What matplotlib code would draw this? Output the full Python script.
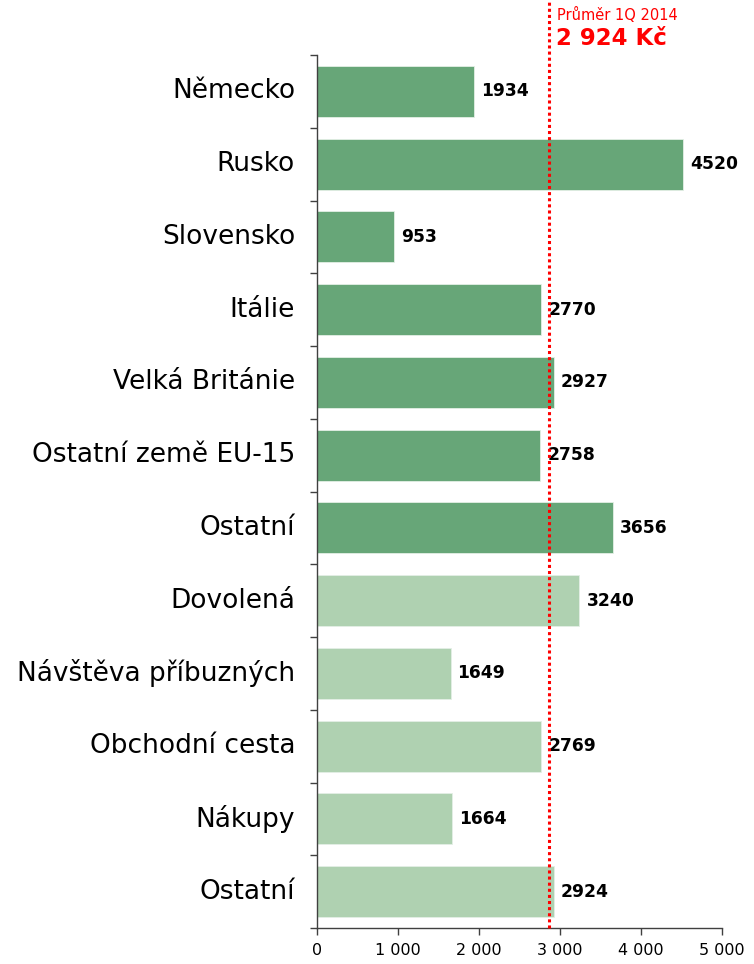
import matplotlib
matplotlib.use('Agg')
import matplotlib.pyplot as plt

# categories top to bottom
categories = ['Německo', 'Rusko', 'Slovensko', 'Itálie', 'Velká Británie',
              'Ostatní země EU-15', 'Ostatní', 'Dovolená', 'Návštěva příbuzných',
              'Obchodní cesta', 'Nákupy', 'Ostatní']
values = [1934, 4520, 953, 2770, 2927, 2758, 3656, 3240, 1649, 2769, 1664, 2924]
groups = ['zeme'] * 7 + ['ucel'] * 5
avg_value = 2924
avg_line_x = 2865  # where the dotted line sits in the picture
x_ticks = [0, 1000, 2000, 3000, 4000, 5000]
x_tick_labels = ['0', '1 000', '2 000', '3 000', '4 000', '5 000']

colors = {'zeme': '#67a678', 'ucel': '#afd1b1'}

plt.rcParams['font.family'] = ['DejaVu Sans']

fig = plt.figure(figsize=(7.54, 9.64), dpi=100)
ax = fig.add_axes([0.4204, 0.0373, 0.5372, 0.9056])

n = len(categories)
ypos = list(range(n))
bar_colors = [colors[g] for g in groups]
ax.barh(ypos, values, height=0.7, color=bar_colors, edgecolor='#e4efe6', linewidth=0.6)

ax.set_ylim(n - 0.5, -0.5)
ax.set_xlim(0, 5000)

# value labels
for y, v in zip(ypos, values):
    ax.annotate(str(v), (v, y), xytext=(5, 0), textcoords='offset points',
                va='center', ha='left', fontsize=12.3, fontweight='bold', color='black')

# category labels as text (ticks sit between categories)
ax.set_yticks([i - 0.5 for i in range(n + 1)])
ax.set_yticklabels([])
for y, c in zip(ypos, categories):
    ax.text(-0.054, y, c, transform=ax.get_yaxis_transform(), ha='right', va='center',
            fontsize=19, color='black')

ax.set_xticks(x_ticks)
ax.set_xticklabels(x_tick_labels, fontsize=11.5)
ax.tick_params(axis='both', direction='out', length=5, color='#404040', width=1)
ax.tick_params(axis='x', pad=6)

for s in ['top', 'right']:
    ax.spines[s].set_visible(False)
for s in ['left', 'bottom']:
    ax.spines[s].set_color('#404040')
    ax.spines[s].set_linewidth(1)

# average line, running above the plot
ax.axvline(avg_line_x, ymin=0, ymax=1.063, color='red', linestyle=(0, (1, 1)),
           linewidth=2.2, clip_on=False, zorder=5)

fig.text(0.739, 0.984, 'Průměr 1Q 2014', color='red', fontsize=10.5, va='center', ha='left')
avg_txt = f'{avg_value:,}'.replace(',', ' ') + ' Kč'
fig.text(0.738, 0.960, avg_txt, color='red', fontsize=16.5, fontweight='bold',
         va='center', ha='left')

fig.savefig('out.png', dpi=100)
